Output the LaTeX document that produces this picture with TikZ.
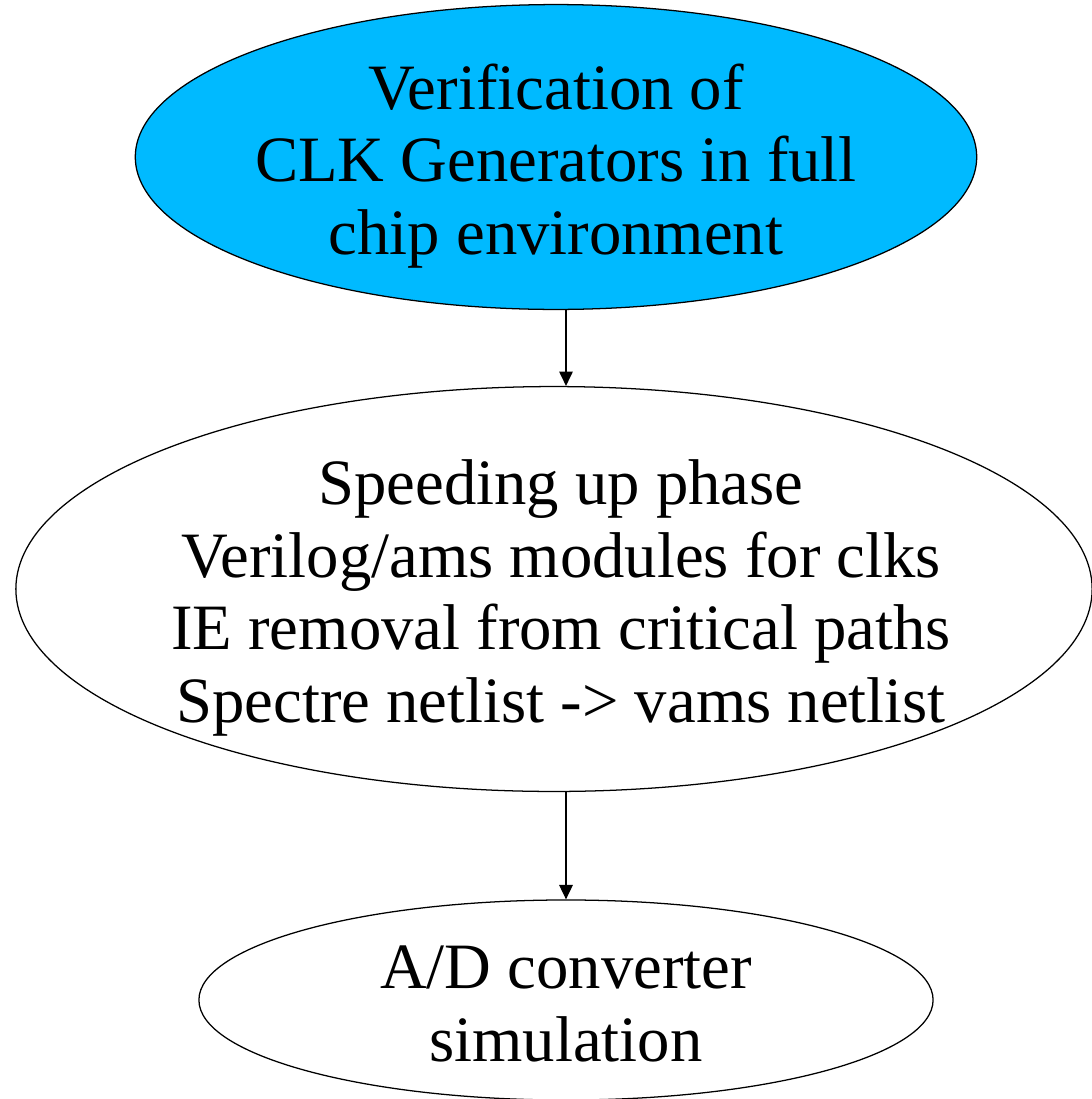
\documentclass[tikz,border=0pt]{standalone}
\usepackage{fontspec}
\setmainfont{Liberation Serif}
\usetikzlibrary{shapes.geometric}
\usetikzlibrary{arrows.meta}
\definecolor{skyblue}{RGB}{0,186,255}
\tikzset{
  flownode/.style = {ellipse, draw=black, line width=0.9pt, inner sep=0pt},% ellipse de base
  flow_b/.style = {flownode, fill=skyblue},% ellipse bleue
  flow_w/.style = {flownode, fill=white},% ellipse blanche
  flowtext/.style = {align=center, inner sep=0pt,
    font=\fontsize{46}{51.5}\selectfont},% texte dans l'ellipse
  flowarrow/.style = {-{Triangle[length=0.36cm,width=0.34cm]}, line width=0.9pt},
}

\begin{document}
\begin{tikzpicture}[x=0.025cm,y=-0.025cm]
  \useasboundingbox (0,0) rectangle (1092,1099);

  \node[flow_b, minimum width=21.03cm, minimum height=7.62cm] (verif) at (556,157) {};
  \node[flow_w, minimum width=26.9cm, minimum height=10.12cm] (speed) at (554,589) {};
  \node[flow_w, minimum width=18.35cm, minimum height=5cm] (adc) at (566,1000) {};

  \node[flowtext] (verif_t) at (556,166)
    {Verification of\\CLK Generators in full\\chip environment};
  \node[flowtext] (speed_t) at (561,598)
    {Speeding up phase\\Verilog/ams modules for clks\\IE removal from critical paths\\Spectre netlist -> vams netlist};
  \node[flowtext] (adc_t) at (566,1004)
    {A/D converter\\simulation};

  %   flux vertical
  \draw[flowarrow] (verif.south -| adc) -- (speed.north -| adc);
  \draw[flowarrow] (speed.south -| adc) -- (adc.north);
\end{tikzpicture}
\end{document}
